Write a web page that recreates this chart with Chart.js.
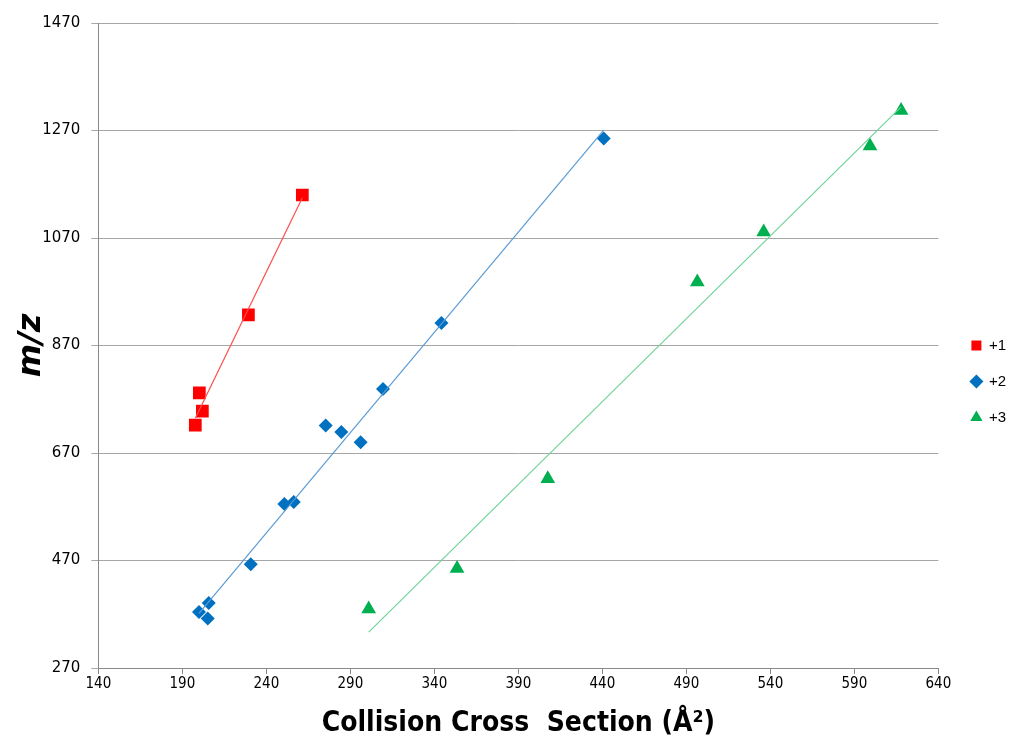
<!DOCTYPE html>
<html>
<head>
<meta charset="utf-8">
<script src="https://cdn.jsdelivr.net/npm/chart.js@4/dist/chart.umd.min.js"></script>
<style>
  html, body { margin: 0; padding: 0; background: #fff; }
  #wrap { width: 1010px; height: 740px; }
</style>
</head>
<body>
<div id="wrap"><canvas id="ccsChart" width="1010" height="740"></canvas></div>
<script>
// 衝突断面積 (Å²) と m/z、電荷ごと
let ccs1 = [261.4, 229.3, 200.1, 201.9, 197.7];
let mz1  = [1150, 927, 782, 748, 722];

let ccs2 = [440.8, 344.2, 309.4, 275.3, 284.6, 296.1, 250.7, 256.3, 230.7, 205.7, 199.9, 205.1];
let mz2  = [1255, 912, 789, 721, 709, 690, 575, 579, 463, 391, 374, 362];

let ccs3 = [617.8, 599.3, 536.0, 496.5, 407.5, 353.5, 300.9];
let mz3  = [1307, 1241, 1081, 988, 622, 455, 380];

let xTicks = [140, 190, 240, 290, 340, 390, 440, 490, 540, 590, 640];
let yTicks = [270, 470, 670, 870, 1070, 1270, 1470];

// 点の配列に変換
function toPoints(xs, ys) {
    return xs.map((x, i) => ({ x: x, y: ys[i] }));
}

// 最小二乗法の近似直線（最小xから最大xまで）
function trendLine(xs, ys) {
    let n = xs.length;
    let mx = xs.reduce((a, b) => a + b, 0) / n;
    let my = ys.reduce((a, b) => a + b, 0) / n;
    let sxy = 0, sxx = 0;
    for (let i = 0; i < n; i++) {
        sxy += (xs[i] - mx) * (ys[i] - my);
        sxx += (xs[i] - mx) * (xs[i] - mx);
    }
    let slope = sxy / sxx;
    let x0 = Math.min(...xs), x1 = Math.max(...xs);
    return [
        { x: x0, y: my + slope * (x0 - mx) },
        { x: x1, y: my + slope * (x1 - mx) }
    ];
}

function trendSet(xs, ys, color) {
    return {
        type: 'line',
        label: '',
        data: trendLine(xs, ys),
        borderColor: color,
        borderWidth: 1.2,
        pointRadius: 0,
        fill: false,
        isTrend: true
    };
}

// 凡例を少し右へずらす
let legendShift = {
    id: 'legendShift',
    afterLayout(chart) {
        chart.legend.left += 12;
        chart.legend.right += 12;
    }
};

let yTickPad = 11;

let ctx = document.getElementById('ccsChart').getContext('2d');

let chart = new Chart(ctx, {
    type: 'scatter',
    plugins: [legendShift],
    data: {
        datasets: [
            trendSet(ccs1, mz1, '#ff4d4d'),
            trendSet(ccs2, mz2, '#5b9bd5'),
            trendSet(ccs3, mz3, '#6fd398'),
            {
                label: '+1',
                data: toPoints(ccs1, mz1),
                pointStyle: 'rect',
                backgroundColor: '#ff0000',
                borderColor: '#ff0000',
                borderWidth: 0,
                pointRadius: 9
            },
            {
                label: '+2',
                data: toPoints(ccs2, mz2),
                pointStyle: 'rectRot',
                backgroundColor: '#0070c0',
                borderColor: '#0070c0',
                borderWidth: 0,
                pointRadius: 7
            },
            {
                label: '+3',
                data: toPoints(ccs3, mz3),
                pointStyle: 'triangle',
                backgroundColor: '#00b050',
                borderColor: '#00b050',
                borderWidth: 0,
                pointRadius: 8.5
            }
        ]
    },
    options: {
        responsive: false,
        animation: false,
        layout: { padding: { top: 23, right: 6, bottom: 0, left: 18 } },
        plugins: {
            tooltip: { enabled: false },
            legend: {
                position: 'right',
                labels: {
                    usePointStyle: true,
                    boxWidth: 10,
                    boxHeight: 10,
                    padding: 21,
                    color: '#000',
                    font: { family: 'Liberation Sans', size: 15 },
                    filter: (item, data) => !data.datasets[item.datasetIndex].isTrend
                }
            }
        },
        scales: {
            x: {
                type: 'linear',
                min: 140,
                max: 640,
                afterBuildTicks: axis => { axis.ticks = xTicks.map(v => ({ value: v })); },
                border: { color: '#898989', width: 1 },
                grid: { drawOnChartArea: false, drawTicks: true, tickLength: 6, color: '#898989' },
                ticks: {
                    color: '#000',
                    padding: 1,
                    font: { family: "'Liberation Sans Narrow', 'DejaVu Sans Condensed'", size: 15 },
                    maxRotation: 0,
                    callback: v => String(v)
                },
                title: {
                    display: true,
                    text: 'Collision Cross  Section (Å²)',
                    color: '#000',
                    font: { family: 'DejaVu Sans Condensed', size: 28, weight: 'bold', lineHeight: 1 },
                    padding: { top: 16, bottom: 2 }
                }
            },
            y: {
                type: 'linear',
                min: 270,
                max: 1470,
                afterBuildTicks: axis => { axis.ticks = yTicks.map(v => ({ value: v })); },
                // 目盛ラベル左側の余白を詰める
                afterFit: axis => { axis.width -= yTickPad + 3; },
                border: { color: '#898989', width: 1 },
                grid: { color: '#a6a6a6', tickLength: 7 },
                ticks: {
                    color: '#000',
                    padding: yTickPad,
                    font: { family: 'DejaVu Sans', size: 15 },
                    callback: v => String(v)
                },
                title: {
                    display: true,
                    text: 'm/z',
                    color: '#000',
                    font: { family: 'DejaVu Sans', size: 32, weight: 'bold', style: 'italic', lineHeight: 0.85 },
                    padding: { top: 0, bottom: 0 }
                }
            }
        }
    }
});
</script>
</body>
</html>
